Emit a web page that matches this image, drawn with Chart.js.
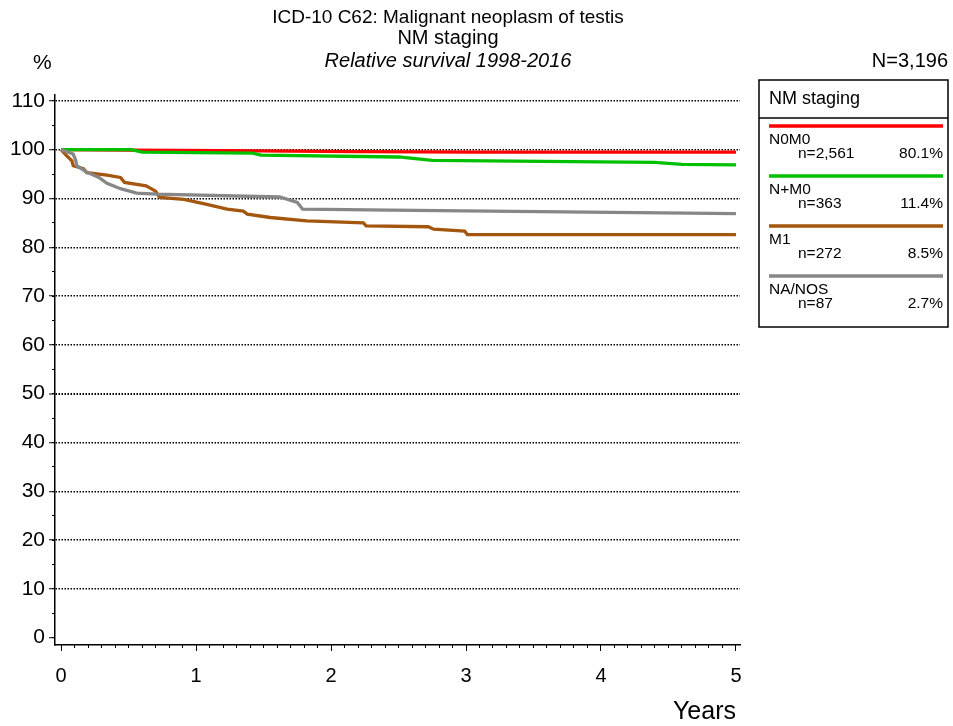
<!DOCTYPE html>
<html>
<head>
<meta charset="utf-8">
<script src="https://cdn.jsdelivr.net/npm/chart.js@4.4.1/dist/chart.umd.min.js"></script>
<style>
    html, body { margin: 0; padding: 0; background: #fff; }
    #wrap { width: 953px; height: 726px; }
</style>
</head>
<body>
<div id="wrap"><canvas id="survivalChart" width="953" height="726"></canvas></div>
<script>
// Titles and labels
const chartTitle = 'ICD-10 C62: Malignant neoplasm of testis';
const chartSubtitle = 'NM staging';
const chartCaption = 'Relative survival 1998-2016';
const totalLabel = 'N=3,196';
const legendTitle = 'NM staging';
const yAxisLabel = '%';
const xAxisLabel = 'Years';

// Groups
const groupNames = ['N0M0', 'N+M0', 'M1', 'NA/NOS'];
const groupCounts = ['n=2,561', 'n=363', 'n=272', 'n=87'];
const groupShares = ['80.1%', '11.4%', '8.5%', '2.7%'];
const groupColors = ['#ff0000', '#00c000', '#a3560e', '#878787'];

// Survival curves (years since diagnosis, relative survival %)
const n0m0Years = [0, 0.5, 1.2, 2.2, 3.1, 5.0];
const n0m0Values = [100, 99.9, 99.8, 99.6, 99.5, 99.5];

const npm0Years = [0, 0.52, 0.6, 1.42, 1.48, 2.5, 2.75, 4.4, 4.6, 5.0];
const npm0Values = [100, 100, 99.5, 99.3, 98.9, 98.5, 97.8, 97.4, 97.0, 96.9];

const m1Years = [0, 0.03, 0.08, 0.09, 0.165, 0.19, 0.34, 0.44, 0.47, 0.63, 0.70, 0.73, 0.91, 1.08, 1.23, 1.35, 1.38, 1.55, 1.82, 2.24, 2.26, 2.72, 2.76, 2.99, 3.01, 5.0];
const m1Values = [100, 99.1, 97.7, 96.7, 96.1, 95.3, 94.8, 94.3, 93.3, 92.6, 91.5, 90.2, 89.8, 88.8, 87.8, 87.4, 86.8, 86.1, 85.4, 85.0, 84.4, 84.2, 83.7, 83.3, 82.6, 82.6];

const naYears = [0, 0.09, 0.11, 0.116, 0.19, 0.28, 0.34, 0.44, 0.56, 0.71, 1.62, 1.75, 1.79, 2.44, 5.0];
const naValues = [100, 99.1, 97.7, 96.7, 95.4, 94.3, 93.1, 92.0, 91.1, 90.9, 90.3, 89.2, 87.8, 87.6, 86.9];

// axis ranges
const xMin = -0.045, xMax = 5.03;
const yMin = -1.5, yMax = 111.2;

const FONT = "'Liberation Sans', Arial, sans-serif";

const toPoints = (xs, ys) => xs.map((x, i) => ({ x: x, y: ys[i] }));

const seriesPoints = [
    toPoints(n0m0Years, n0m0Values),
    toPoints(npm0Years, npm0Values),
    toPoints(m1Years, m1Values),
    toPoints(naYears, naValues),
];

// draw the titles and the boxed legend on the right
const decorPlugin = {
    id: 'decor',
    afterDraw(chart) {
        const c = chart.ctx;
        c.save();
        c.fillStyle = '#000';
        c.textBaseline = 'middle';

        c.textAlign = 'center';
        c.font = `19px ${FONT}`;
        c.fillText(chartTitle, 448, 18);
        c.font = `20px ${FONT}`;
        c.fillText(chartSubtitle, 448, 38);
        c.font = `italic 20px ${FONT}`;
        c.fillText(chartCaption, 448, 61);

        c.textAlign = 'left';
        c.font = `21px ${FONT}`;
        c.fillText(yAxisLabel, 33, 63);
        c.textAlign = 'right';
        c.font = `20px ${FONT}`;
        c.fillText(totalLabel, 948, 61);
        c.font = `25px ${FONT}`;
        c.fillText(xAxisLabel, 736, 712);

        // legend box
        const bx = 759, by = 80, bw = 189, bh = 247;
        c.strokeStyle = '#000';
        c.lineWidth = 1.5;
        c.strokeRect(bx, by, bw, bh);
        c.beginPath();
        c.moveTo(bx, 118);
        c.lineTo(bx + bw, 118);
        c.stroke();

        c.textAlign = 'left';
        c.font = `18px ${FONT}`;
        c.fillText(legendTitle, 769, 99);

        groupNames.forEach((name, i) => {
            const top = 126 + i * 50;
            c.strokeStyle = groupColors[i];
            c.lineWidth = 3.5;
            c.beginPath();
            c.moveTo(769, top);
            c.lineTo(943, top);
            c.stroke();

            c.font = `15.5px ${FONT}`;
            c.textAlign = 'left';
            c.fillText(name, 769, top + 14);
            c.fillText(groupCounts[i], 798, top + 28);
            c.textAlign = 'right';
            c.fillText(groupShares[i], 943, top + 28);
        });
        c.restore();
    }
};

const ctx = document.getElementById('survivalChart').getContext('2d');

const intLabel = (v) => {
    const r = Math.round(v);
    return Math.abs(v - r) < 1e-6 ? String(r) : '';
};

new Chart(ctx, {
    type: 'line',
    data: {
        datasets: groupNames.map((name, i) => ({
            label: name,
            data: seriesPoints[i],
            borderColor: groupColors[i],
            backgroundColor: groupColors[i],
            borderWidth: 3.3,
            pointRadius: 0,
            tension: 0,
            fill: false,
            order: 4 - i, // later groups drawn on top
        })),
    },
    options: {
        responsive: false,
        animation: false,
        layout: { padding: { top: 95, right: 213, left: 0, bottom: 0 } },
        plugins: {
            legend: { display: false },
            tooltip: { enabled: false },
        },
        scales: {
            // minor ticks every 0.1 year, sits right on the chart edge
            xMinor: {
                type: 'linear',
                position: 'bottom',
                weight: 0,
                min: xMin,
                max: xMax,
                afterFit: (scale) => { scale.height = 0; },
                ticks: { display: false, stepSize: 0.1, includeBounds: false, autoSkip: false },
                grid: { drawOnChartArea: false, tickLength: 3, tickColor: '#000', tickWidth: 1 },
                border: { display: false },
            },
            x: {
                type: 'linear',
                position: 'bottom',
                weight: 1,
                min: xMin,
                max: xMax,
                afterFit: (scale) => { scale.height = 81; },
                ticks: {
                    stepSize: 1,
                    includeBounds: false,
                    autoSkip: false,
                    maxRotation: 0,
                    padding: 13,
                    color: '#000',
                    font: { family: FONT, size: 20 },
                    callback: intLabel,
                },
                grid: {
                    drawOnChartArea: false,
                    tickLength: 6,
                    tickColor: '#000',
                    tickWidth: 1,
                },
                border: { display: true, color: '#000', width: 1.5 },
            },
            yMinor: {
                type: 'linear',
                position: 'left',
                weight: 0,
                min: yMin,
                max: yMax,
                afterFit: (scale) => { scale.width = 0; },
                ticks: { display: false, stepSize: 5, includeBounds: false, autoSkip: false },
                grid: { drawOnChartArea: false, tickLength: 3, tickColor: '#000', tickWidth: 1 },
                border: { display: false },
            },
            y: {
                type: 'linear',
                position: 'left',
                weight: 1,
                min: yMin,
                max: yMax,
                afterFit: (scale) => { scale.width = 55; },
                ticks: {
                    stepSize: 10,
                    includeBounds: false,
                    autoSkip: false,
                    padding: 4,
                    color: '#000',
                    font: { family: FONT, size: 21 },
                    callback: intLabel,
                },
                grid: {
                    color: (c) => (c.tick && c.tick.value > 0 ? '#000' : 'rgba(0,0,0,0)'),
                    lineWidth: (c) => (c.tick && c.tick.value === 50 ? 2 : 1.5),
                    tickLength: 6,
                    tickColor: '#000',
                    tickWidth: 1,
                },
                border: { display: true, color: '#000', width: 1.5, dash: [1.5, 1.5] },
            },
        },
    },
    plugins: [decorPlugin],
});
</script>
</body>
</html>
